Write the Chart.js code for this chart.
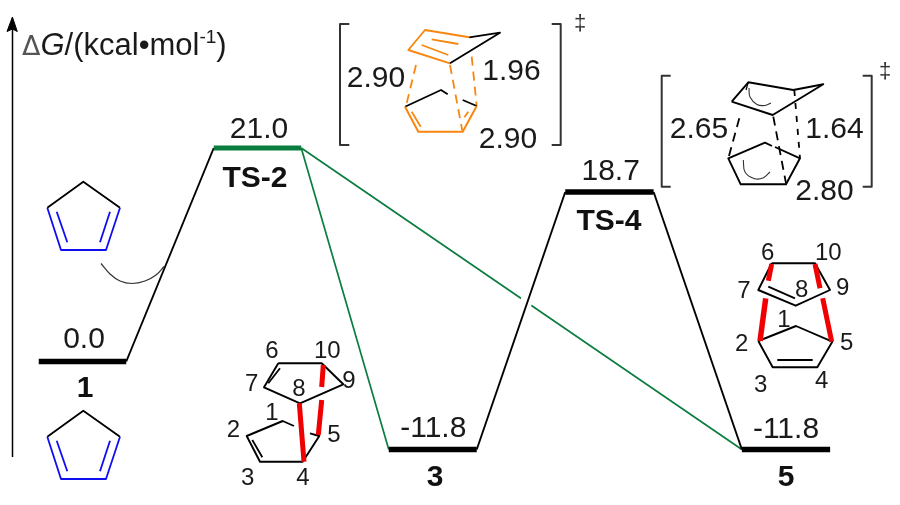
<!DOCTYPE html>
<html>
<head>
<meta charset="utf-8">
<style>
html, body { margin: 0; background: #fff; }
canvas { display: block; }
</style>
<script src="https://cdn.jsdelivr.net/npm/chart.js@4/dist/chart.umd.js"></script>
</head>
<body>
<canvas id="chart" width="900" height="505"></canvas>
<script>
/* Values */
const stages = ["1", "TS-2", "3", "TS-4", "5"];
const energies = [0.0, 21.0, -11.8, 18.7, -11.8];
const energyLabels = ["0.0", "21.0", "-11.8", "18.7", "-11.8"];
const blackPath = [0, 1];
const blackPath2 = [2, 3, 4];
const greenPaths = [[1, 2], [1, 4]];
const distancesTS2 = ["2.90", "1.96", "2.90"];
const distancesTS4 = ["2.65", "1.64", "2.80"];

/* The diagram is not to scale, so the axes are piecewise */
const energyAnchors = [[-11.8, 449.5], [0, 361.5], [18.7, 192], [21, 148]];
const stageAnchors = [[0, 82.5], [1, 257.5], [2, 432.5], [3, 609.5], [4, 786]];
const HALF = 0.25;

class AnchoredScale extends Chart.LinearScale {
    getPixelForValue(v) {
        const a = this.options.anchors;
        let i = 0;
        while (i < a.length - 2 && v > a[i + 1][0]) i++;
        return a[i][1] + (v - a[i][0]) / (a[i + 1][0] - a[i][0]) * (a[i + 1][1] - a[i][1]);
    }
    getValueForPixel(p) {
        const a = this.options.anchors;
        const asc = a[1][1] > a[0][1];
        let i = 0;
        while (i < a.length - 2 && (asc ? p > a[i + 1][1] : p < a[i + 1][1])) i++;
        return a[i][0] + (p - a[i][1]) / (a[i + 1][1] - a[i][1]) * (a[i + 1][0] - a[i][0]);
    }
}
AnchoredScale.id = "anchored";
AnchoredScale.defaults = {};
Chart.register(AnchoredScale);

const BLACK = "#000000", GREEN = "#0b7d3e", BLUE = "#0f0fee", ORANGE = "#f8870f", RED = "#f00000", GREY = "#333333";
const datasets = [];

/* later datasets paint on top */
function addLine(data, color, width, extra, drawing) {
    datasets.push(Object.assign({
        type: "scatter",
        showLine: true,
        data: data,
        borderColor: color,
        backgroundColor: color,
        borderWidth: width,
        pointRadius: 0,
        pointHoverRadius: 0,
        clip: false,
        order: -datasets.length,
        xAxisID: drawing ? "dx" : "x",
        yAxisID: drawing ? "dy" : "y",
        borderJoinStyle: "round"
    }, extra || {}));
}
/* structure drawings use the hidden drawing axes */
function draw(pts, color, width, extra) {
    addLine(pts.map(p => ({ x: p[0], y: p[1] })), color, width, extra, true);
}

function connect(path, color, width) {
    for (let k = 0; k < path.length - 1; k++) {
        const a = path[k], b = path[k + 1];
        addLine([{ x: a + HALF, y: energies[a] }, { x: b - HALF, y: energies[b] }], color, width);
    }
}

/* Connectors */
greenPaths.forEach(p => connect(p, GREEN, 1.7));
draw([[527.5, 298], [522.5, 313]], "#ffffff", 12);
connect(blackPath, BLACK, 1.9);
connect(blackPath2, BLACK, 1.9);

/* Energy levels */
stages.forEach(function (s, i) {
    addLine([{ x: i - HALF, y: energies[i] }, { x: i + HALF, y: energies[i] }], i == 1 ? GREEN : BLACK, i == 1 ? 5 : 5.5);
});

/* Axis with arrow */
draw([[12.5, 457], [12.5, 28]], BLACK, 1.5);
draw([[12.4, 17], [17.3, 31.5], [12.4, 29], [7, 31.5], [12.4, 17]], BLACK, 1, { fill: "shape" });

/* Cyclopentadienes */
[0, 229].forEach(function (d) {
    draw([[47.3, 207.7 + d], [83.3, 181.7 + d], [120, 207.7 + d]], BLACK, 1.8);
    draw([[47.3, 207.7 + d], [61, 250 + d], [106, 250 + d], [120, 207.7 + d]], BLUE, 1.8);
    draw([[56.7, 211.7 + d], [67.3, 242.3 + d]], BLUE, 1.8);
    draw([[110, 211.7 + d], [100, 242.3 + d]], BLUE, 1.8);
});
draw([[101, 263.5], [110, 274], [120, 281], [132, 283.5], [145, 281], [156, 275], [164, 266.5]], GREY, 1.2, { tension: 0.4 });

/* TS-2 structure */
draw([[469.3, 37.3], [425, 30], [408.3, 50], [450, 63.3]], ORANGE, 1.9);
draw([[469.3, 37.3], [500, 32.7], [450, 63.3]], BLACK, 1.8);
draw([[431.7, 39.3], [458.3, 44]], ORANGE, 1.8);
draw([[421.7, 45], [448.3, 55]], ORANGE, 1.8);
draw([[416, 65], [406, 106]], ORANGE, 1.8, { borderDash: [9, 6] });
draw([[450, 65], [462.3, 130.7]], ORANGE, 1.8, { borderDash: [9, 6] });
draw([[471.7, 56.7], [476.7, 106]], ORANGE, 1.8, { borderDash: [9, 6] });
draw([[405, 106.7], [441, 90], [447.7, 94.3]], BLACK, 1.8);
draw([[462.7, 100], [476.7, 106]], BLACK, 1.8);
draw([[405, 106.7], [418.3, 131.7], [462.7, 131.7], [476.7, 106]], ORANGE, 2);
draw([[411.7, 111.7], [420.7, 126.7]], ORANGE, 1.8);
draw([[468.3, 111.7], [464.3, 117.3]], ORANGE, 1.8);
draw([[349.3, 24], [340, 24], [340, 145], [349.3, 145]], GREY, 2);
draw([[551.7, 24], [560.7, 24], [560.7, 145], [551.7, 145]], GREY, 2);

/* TS-4 structure */
draw([[731.7, 101.7], [748.3, 82.3], [793.3, 90], [823.3, 84.3], [772.7, 115], [731.7, 101.7]], BLACK, 1.9);
draw([[749, 88], [750, 97], [757, 104.5], [765, 105.5], [771, 103]], GREY, 1.1, { tension: 0.4 });
draw([[748.3, 82.3], [746, 90]], BLACK, 1.2);
draw([[739.3, 118.3], [728.3, 158.3]], BLACK, 1.8, { borderDash: [9, 6] });
draw([[773.3, 116.7], [786, 183.3]], BLACK, 1.8, { borderDash: [9, 6] });
draw([[794.3, 90], [800, 158.3]], BLACK, 1.8, { borderDash: [6, 7] });
draw([[775, 147], [800, 158.3], [786, 184.3], [740.7, 184.3], [728.3, 158.3], [765, 142.7], [772, 146]], BLACK, 1.9);
draw([[743.3, 160], [745, 172], [754, 178.5], [763, 178], [770, 172]], GREY, 1.1, { tension: 0.4 });
draw([[670.7, 75.7], [661.7, 75.7], [661.7, 186.7], [670.7, 186.7]], GREY, 2);
draw([[862.7, 75.7], [871.7, 75.7], [871.7, 186.7], [862.7, 186.7]], GREY, 2);

/* Product 3 */
draw([[278.3, 363.3], [321.7, 363.3], [343.3, 384.3], [300, 403.3], [264, 387.3], [278.3, 363.3]], BLACK, 1.9);
draw([[280, 368.3], [268.3, 383.3]], BLACK, 1.8);
draw([[294, 426], [282.7, 421], [246.7, 436], [260, 461.7], [302.7, 461.7], [319.3, 436], [310, 433.3]], BLACK, 1.9);
draw([[252.3, 440], [262.3, 457.3]], BLACK, 1.8);
draw([[299.3, 403.3], [304, 461.7]], RED, 5);
draw([[323.3, 365], [321.7, 387]], RED, 5);
draw([[321.7, 400], [318.3, 435]], RED, 5);

/* Product 5 */
draw([[771.7, 263.3], [815, 263.3], [830, 290], [795.7, 305.7], [758.3, 290], [771.7, 263.3]], BLACK, 1.9);
draw([[768.3, 286.7], [795, 298.3]], BLACK, 1.8);
draw([[758.3, 341], [796, 326], [832.3, 341.7], [817.3, 367.3], [772.7, 367.3], [758.3, 341]], BLACK, 1.9);
draw([[777.3, 360], [812.7, 360]], BLACK, 1.8);
draw([[771.7, 264], [768.3, 280.7]], RED, 5);
draw([[765.7, 298.3], [760, 341]], RED, 5.5);
draw([[815, 264], [820, 288.3]], RED, 5);
draw([[822.7, 298.3], [831.7, 341.7]], RED, 5);

/* Text: [text, centre x, baseline y] on the drawing axes */
const DARK = "#1a1a1a";
const FONT = "'Liberation Sans', Arial, sans-serif";
const atomLabels = [
    ["6", 272, 358.3], ["10", 327.3, 358.3], ["7", 251.7, 390.7], ["8", 299, 395.7], ["9", 349, 387.7],
    ["1", 272, 420], ["2", 233.3, 437.3], ["5", 334, 441.7], ["3", 247.7, 485], ["4", 303, 485],
    ["6", 767.7, 260], ["10", 828.3, 260], ["7", 744, 298], ["8", 801.7, 296.7], ["9", 842.7, 295],
    ["1", 784, 326.7], ["2", 741.7, 350.7], ["5", 846.7, 350], ["3", 760.7, 391.7], ["4", 821.7, 388]
];
const distancePos = [[376, 87.3], [511.5, 80], [508, 147.7], [699, 138.3], [834.5, 138.3], [824.5, 200]];
const nameBaselines = [396.7, 187.3, 486, 230, 486];
const nameCentres = [85, 255, 435, 609, 786];
const valueBaselines = [348, 138.3, 436.7, 180, 438];
const valueCentres = [84, 259, 433.3, 610.7, 786];

const textPlugin = {
    id: "diagramText",
    afterDatasetsDraw(chart) {
        const c = chart.ctx, dx = chart.scales.dx, dy = chart.scales.dy;
        function put(t, x, y, font, color, align) {
            c.font = font;
            c.fillStyle = color || DARK;
            c.textAlign = align || "center";
            c.textBaseline = "alphabetic";
            c.fillText(t, dx.getPixelForValue(x), dy.getPixelForValue(y));
        }
        c.save();
        energyLabels.forEach((t, i) => put(t, valueCentres[i], valueBaselines[i], "30px " + FONT));
        stages.forEach((t, i) => put(t, nameCentres[i], nameBaselines[i], "bold 30px " + FONT, "#111"));
        atomLabels.forEach(a => put(a[0], a[1], a[2], "24px " + FONT));
        distancesTS2.concat(distancesTS4).forEach((t, i) => put(t, distancePos[i][0], distancePos[i][1], "30px " + FONT));
        put("\u2021", 580, 30, "22px " + FONT, GREY);
        put("\u2021", 885, 78, "22px " + FONT, GREY);

        /* axis title, run by run */
        let x = 22;
        const runs = [
            ["\u0394", "27px 'DejaVu Sans'", 55, "#555"],
            ["G", "italic 31px " + FONT, 55],
            ["/(kcal\u2022mol", "31px " + FONT, 55],
            ["-1", "19px " + FONT, 43],
            [")", "31px " + FONT, 55]
        ];
        runs.forEach(function (r) {
            put(r[0], x, r[2], r[1], r[3], "left");
            x += c.measureText(r[0]).width;
        });
        c.restore();
    }
};

const hidden = { display: false };
new Chart(document.getElementById("chart"), {
    type: "scatter",
    data: { datasets: datasets },
    plugins: [textPlugin],
    options: {
        responsive: false,
        animation: false,
        events: [],
        layout: { padding: 0 },
        plugins: { legend: hidden, title: hidden, tooltip: { enabled: false } },
        scales: {
            x: { type: "anchored", anchors: stageAnchors, display: false, min: -1, max: 5 },
            y: { type: "anchored", anchors: energyAnchors, display: false, min: -30, max: 40 },
            dx: { type: "linear", display: false, min: 0, max: 900 },
            dy: { type: "linear", display: false, reverse: true, min: 0, max: 505 }
        }
    }
});
</script>
</body>
</html>
